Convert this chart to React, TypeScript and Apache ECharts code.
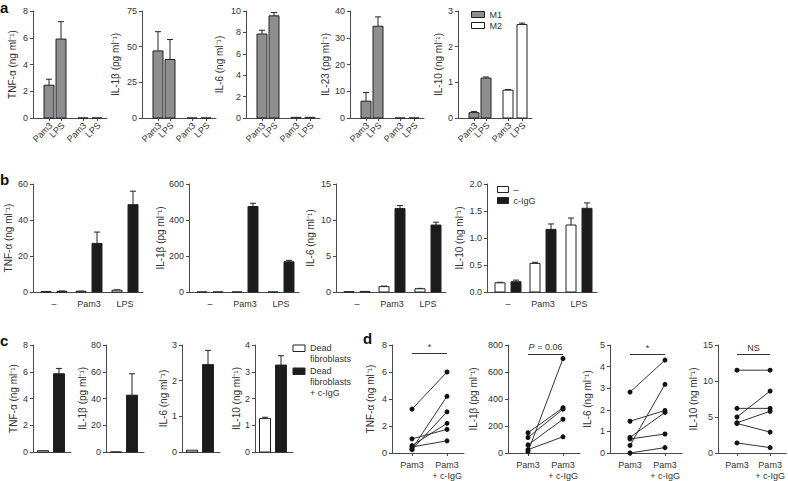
import React, { useEffect, useRef } from 'react';
import * as echarts from 'echarts';

const FONT = '"Liberation Sans", Arial, Helvetica, sans-serif';
const INK = '#222222';
const AXIS = '#4a4a4a';
const TXT = '#333333';
const GRAY = '#8e8e8e';
const BLACK = '#1c1c1c';
const WHITE = '#ffffff';

// ---------- Panel a ----------
const aCats = ['Pam3', 'LPS', 'Pam3', 'LPS'];
const aNames = ['TNF-α (ng ml⁻¹)', 'IL-1β (pg ml⁻¹)', 'IL-6 (ng ml⁻¹)', 'IL-23 (pg ml⁻¹)', 'IL-10 (ng ml⁻¹)'];
const aYMax = [8, 75, 10, 40, 3];
const aYStep = [2, 25, 2, 10, 1];
const aM1 = [[2.45, 5.9], [47, 41], [7.85, 9.55], [6.3, 34.3], [0.15, 1.12]];
const aM1Err = [[2.9, 7.2], [60.5, 55], [8.2, 9.85], [9.5, 37.8], [0.18, 1.15]];
const aM2 = [[0, 0], [0, 0], [0.06, 0.06], [0, 0], [0.78, 2.62]];
const aM2Err = [[0, 0], [0, 0], [0.06, 0.06], [0, 0], [0.8, 2.66]];

// ---------- Panel b ----------
const bCats = ['–', 'Pam3', 'LPS'];
const bNames = ['TNF-α (ng ml⁻¹)', 'IL-1β (pg ml⁻¹)', 'IL-6 (ng ml⁻¹)', 'IL-10 (ng ml⁻¹)'];
const bYMax = [60, 600, 15, 2];
const bYStep = [20, 200, 5, 0.5];
const bNone = [[0.3, 0.4, 1.0], [0, 0, 0], [0.05, 0.75, 0.45], [0.17, 0.53, 1.24]];
const bNoneErr = [[0.3, 0.5, 1.2], [0, 0, 0], [0.05, 0.82, 0.5], [0.18, 0.55, 1.37]];
const bIgG = [[0.4, 27, 48.5], [0, 475, 168], [0.08, 11.6, 9.3], [0.19, 1.16, 1.55]];
const bIgGErr = [[0.5, 33.3, 56], [0, 493, 176], [0.08, 12.0, 9.7], [0.22, 1.26, 1.65]];

// ---------- Panel c ----------
const cNames = ['TNF-α (ng ml⁻¹)', 'IL-1β (pg ml⁻¹)', 'IL-6 (ng ml⁻¹)', 'IL-10 (ng ml⁻¹)'];
const cYMax = [8, 80, 3, 4];
const cYStep = [2, 20, 1, 1];
const cDead = [0.1, 0, 0.05, 1.25];
const cDeadErr = [0.1, 0, 0.05, 1.3];
const cIgG = [5.85, 42.5, 2.45, 3.25];
const cIgGErr = [6.25, 58.5, 2.85, 3.6];
const cSeries = ['Dead\nfibroblasts', 'Dead\nfibroblasts\n+ c-IgG'];

// ---------- Panel d ----------
const dCats = ['Pam3', 'Pam3\n+ c-IgG'];
const dNames = ['TNF-α (ng ml⁻¹)', 'IL-1β (pg ml⁻¹)', 'IL-6 (ng ml⁻¹)', 'IL-10 (ng ml⁻¹)'];
const dYMax = [8, 800, 5, 15];
const dYStep = [2, 200, 1, 5];
const dPre = [
  [3.25, 1.05, 0.55, 0.45, 0.3, 0.25],
  [150, 115, 60, 25, 10],
  [2.82, 1.47, 0.72, 0.65, 0.35, 0],
  [11.5, 6.2, 5.0, 4.2, 4.1, 1.4],
];
const dPost = [
  [6.0, 1.75, 2.2, 0.9, 4.2, 3.05],
  [335, 325, 250, 120, 700],
  [4.3, 1.97, 1.88, 0.88, 3.18, 0.25],
  [11.5, 6.2, 8.6, 5.8, 2.9, 0.75],
];
const dSig = ['*', '{i|P} = 0.06', '*', 'NS'];
const dSigY = [7.4, 735, 4.55, 13.7];

// ---------- layout ----------
const A_LEFT = [33, 142, 246, 350, 458];
const A_GAP = [16, 22, 22, 20, 15];
const A_TOP = 11, A_H = 107, A_W = 74, A_POS = [16, 28, 50, 64], A_BW = 10;
const B_LEFT = [33, 189, 336, 487];
const B_GAP = [20, 24, 21, 23];
const B_TOP = 184, B_H = 108, B_W = 110, B_POS = [21, 56, 92], B_OFF = 8, B_BW = 10;
const C_LEFT = [33, 106, 182, 255];
const C_GAP = [15, 18, 14, 13];
const C_TOP = 345, C_H = 107, C_W = 38, C_POS = [10, 26], C_BW = 11;
const C_LEG_X = 293, C_LEG_Y = [345, 368];
const D_LEFT = [392, 508, 610, 718];
const D_GAP = [17, 30, 18, 20];
const D_TOP = 345, D_H = 108, D_W = 72, D_POS = [20, 55];

function barRender(fill: string, bw: number) {
  return (_p: any, api: any) => {
    const x = api.value(0);
    const v = api.value(1);
    const e = api.value(2);
    const p0 = api.coord([x, 0]);
    const p1 = api.coord([x, v]);
    const children: any[] = [];
    if (e > v) {
      const pe = api.coord([x, e]);
      children.push({ type: 'line', shape: { x1: p0[0], y1: p1[1], x2: p0[0], y2: pe[1] }, style: { stroke: INK, lineWidth: 1 } });
      children.push({ type: 'line', shape: { x1: p0[0] - 3, y1: pe[1], x2: p0[0] + 3, y2: pe[1] }, style: { stroke: INK, lineWidth: 1 } });
    }
    children.push({
      type: 'rect',
      shape: { x: p0[0] - bw / 2, y: p1[1], width: bw, height: Math.max(0, p0[1] - p1[1]) },
      style: { fill, stroke: INK, lineWidth: 1 },
    });
    return { type: 'group', children };
  };
}

function buildOption() {
  const grid: any[] = [];
  const xAxis: any[] = [];
  const yAxis: any[] = [];
  const series: any[] = [];

  const addPanel = (s: {
    left: number; top: number; width: number; height: number;
    yMax: number; yStep: number; yName: string; nameGap: number;
    ticks: number[]; labels: string[]; showTicks: boolean; decimals?: number; labelMargin?: number;
  }) => {
    const i = grid.length;
    grid.push({ left: s.left, top: s.top, width: s.width, height: s.height, containLabel: false });
    xAxis.push({
      gridIndex: i, type: 'value', min: 0, max: s.width,
      axisLine: { show: true, onZero: false, lineStyle: { color: AXIS, width: 1 } },
      splitLine: { show: false },
      axisTick: { show: s.showTicks, customValues: s.ticks, length: 3, lineStyle: { color: AXIS } },
      axisLabel: {
        show: s.labels.length > 0,
        customValues: s.ticks,
        showMinLabel: true,
        showMaxLabel: true,
        margin: s.labelMargin ?? 5,
        fontSize: 9, color: TXT, fontFamily: FONT, lineHeight: 11,
        formatter: (v: number) => {
          const k = s.ticks.findIndex((t) => Math.abs(t - v) < 0.01);
          return k >= 0 ? s.labels[k] : '';
        },
      },
    });
    yAxis.push({
      gridIndex: i, type: 'value', min: 0, max: s.yMax, interval: s.yStep,
      name: s.yName, nameLocation: 'middle', nameRotate: 90, nameGap: s.nameGap,
      nameTextStyle: { fontSize: 10, color: TXT, fontFamily: FONT },
      axisLine: { show: true, lineStyle: { color: AXIS, width: 1 } },
      axisTick: { show: true, length: 3, lineStyle: { color: AXIS } },
      splitLine: { show: false },
      axisLabel: {
        fontSize: 9, color: TXT, fontFamily: FONT, margin: 5,
        showMinLabel: true, showMaxLabel: true,
        formatter: (v: number) => (s.decimals ? v.toFixed(s.decimals) : String(v)),
      },
    });
    return i;
  };

  const addBars = (i: number, name: string, fill: string, bw: number, pts: number[][]) => {
    series.push({
      type: 'custom', name, xAxisIndex: i, yAxisIndex: i, clip: false,
      itemStyle: { color: fill, borderColor: INK, borderWidth: 1 },
      renderItem: barRender(fill, bw),
      data: pts,
      encode: { x: 0, y: 1 },
      silent: true,
    });
  };

  // rotated category labels for panel a, placed at the tick positions
  const addRotatedLabels = (i: number, pos: number[], names: string[]) => {
    series.push({
      type: 'custom', name: 'labels', xAxisIndex: i, yAxisIndex: i, clip: false, silent: true,
      data: pos.map((p) => [p, 0]),
      encode: { x: 0, y: 1 },
      renderItem: (params: any, api: any) => {
        const p = api.coord([api.value(0), 0]);
        return {
          type: 'text', x: p[0] + 2, y: p[1] + 6, rotation: Math.PI / 4,
          style: {
            text: names[params.dataIndex], align: 'right', verticalAlign: 'middle',
            fontSize: 9, fill: TXT, fontFamily: FONT,
          },
        };
      },
    });
  };

  // Panel a
  aNames.forEach((nm, k) => {
    const i = addPanel({
      left: A_LEFT[k], top: A_TOP, width: A_W, height: A_H, yMax: aYMax[k], yStep: aYStep[k], yName: nm,
      nameGap: A_GAP[k], ticks: A_POS, labels: [], showTicks: true,
    });
    addBars(i, 'M1', GRAY, A_BW, aM1[k].map((v, j) => [A_POS[j], v, aM1Err[k][j]]));
    addBars(i, 'M2', WHITE, A_BW, aM2[k].map((v, j) => [A_POS[j + 2], v, aM2Err[k][j]]));
    addRotatedLabels(i, A_POS, aCats);
  });

  // Panel b
  bNames.forEach((nm, k) => {
    const i = addPanel({
      left: B_LEFT[k], top: B_TOP, width: B_W, height: B_H, yMax: bYMax[k], yStep: bYStep[k], yName: nm,
      nameGap: B_GAP[k], ticks: B_POS, labels: bCats, showTicks: false, decimals: k === 3 ? 1 : 0, labelMargin: 6,
    });
    addBars(i, '–', WHITE, B_BW, bNone[k].map((v, j) => [B_POS[j] - B_OFF, v, bNoneErr[k][j]]));
    addBars(i, 'c-IgG', BLACK, B_BW, bIgG[k].map((v, j) => [B_POS[j] + B_OFF, v, bIgGErr[k][j]]));
  });

  // Panel c
  cNames.forEach((nm, k) => {
    const i = addPanel({
      left: C_LEFT[k], top: C_TOP, width: C_W, height: C_H, yMax: cYMax[k], yStep: cYStep[k], yName: nm,
      nameGap: C_GAP[k], ticks: C_POS, labels: [], showTicks: false,
    });
    addBars(i, cSeries[0], WHITE, C_BW, [[C_POS[0], cDead[k], cDeadErr[k]]]);
    addBars(i, cSeries[1], BLACK, C_BW, [[C_POS[1], cIgG[k], cIgGErr[k]]]);
  });

  // Panel d
  dNames.forEach((nm, k) => {
    const i = addPanel({
      left: D_LEFT[k], top: D_TOP, width: D_W, height: D_H, yMax: dYMax[k], yStep: dYStep[k], yName: nm,
      nameGap: D_GAP[k], ticks: D_POS, labels: dCats, showTicks: true, labelMargin: 6,
    });
    dPre[k].forEach((pre, j) => {
      const s: any = {
        type: 'line', name: 'donor', xAxisIndex: i, yAxisIndex: i,
        data: [[D_POS[0], pre], [D_POS[1], dPost[k][j]]],
        symbol: 'circle', symbolSize: 5, showSymbol: true,
        itemStyle: { color: '#111' }, lineStyle: { color: '#333', width: 1 },
        silent: true, z: 3,
      };
      if (j === 0) {
        s.markLine = {
          silent: true, symbol: ['none', 'none'],
          lineStyle: { color: '#333', width: 1.2, type: 'solid' },
          label: {
            show: true, position: 'insideMiddleTop', distance: 2, formatter: dSig[k],
            fontSize: 9, color: TXT, fontFamily: FONT,
            rich: { i: { fontStyle: 'italic', fontSize: 9, color: TXT, fontFamily: FONT } },
          },
          data: [[{ coord: [D_POS[0], dSigY[k]] }, { coord: [D_POS[1], dSigY[k]] }]],
        };
      }
      series.push(s);
    });
  });

  const legendBase = {
    orient: 'vertical', icon: 'rect', selectedMode: false, padding: 0,
    textStyle: { fontSize: 9, color: TXT, fontFamily: FONT },
  };

  const letter = (t: string, x: number, y: number) => ({
    type: 'text', x, y,
    style: { text: t, fontSize: 15, fontWeight: 'bold', fill: '#111', fontFamily: FONT, verticalAlign: 'top' },
  });

  // panel c key: boxes aligned with the first line of each multi-line entry
  const cKey: any[] = [];
  [WHITE, BLACK].forEach((fill, j) => {
    cKey.push({
      type: 'rect', x: C_LEG_X, y: C_LEG_Y[j], shape: { x: 0, y: 0, width: 12, height: 6.5 },
      style: { fill, stroke: INK, lineWidth: 1 },
    });
    cKey.push({
      type: 'text', x: C_LEG_X + 17, y: C_LEG_Y[j] - 2.2,
      style: { text: cSeries[j], fontSize: 9, lineHeight: 11, fill: TXT, fontFamily: FONT, verticalAlign: 'top' },
    });
  });

  return {
    animation: false,
    backgroundColor: '#ffffff',
    textStyle: { fontFamily: FONT },
    grid, xAxis, yAxis, series,
    legend: [
      {
        ...legendBase, left: 471, top: 10, itemWidth: 13, itemHeight: 6, itemGap: 2,
        data: [
          { name: 'M1', itemStyle: { color: GRAY, borderColor: INK, borderWidth: 1 } },
          { name: 'M2', itemStyle: { color: WHITE, borderColor: INK, borderWidth: 1 } },
        ],
      },
      {
        ...legendBase, left: 497, top: 185, itemWidth: 11, itemHeight: 6, itemGap: 2,
        data: [
          { name: '–', itemStyle: { color: WHITE, borderColor: INK, borderWidth: 1 } },
          { name: 'c-IgG', itemStyle: { color: BLACK, borderColor: INK, borderWidth: 1 } },
        ],
      },
    ],
    graphic: [
      letter('a', 0, 0),
      letter('b', 0, 172),
      letter('c', 0, 333),
      letter('d', 363, 331),
      ...cKey,
    ],
  };
}

export default function App() {
  const ref = useRef<HTMLDivElement>(null);
  useEffect(() => {
    if (!ref.current) return;
    const chart = echarts.init(ref.current, null, { renderer: 'svg' });
    chart.setOption(buildOption() as any);
    return () => chart.dispose();
  }, []);
  return (
    <div
      ref={ref}
      style={{ position: 'absolute', left: 0, top: 0, width: 788, height: 481, background: '#fff' }}
    />
  );
}
